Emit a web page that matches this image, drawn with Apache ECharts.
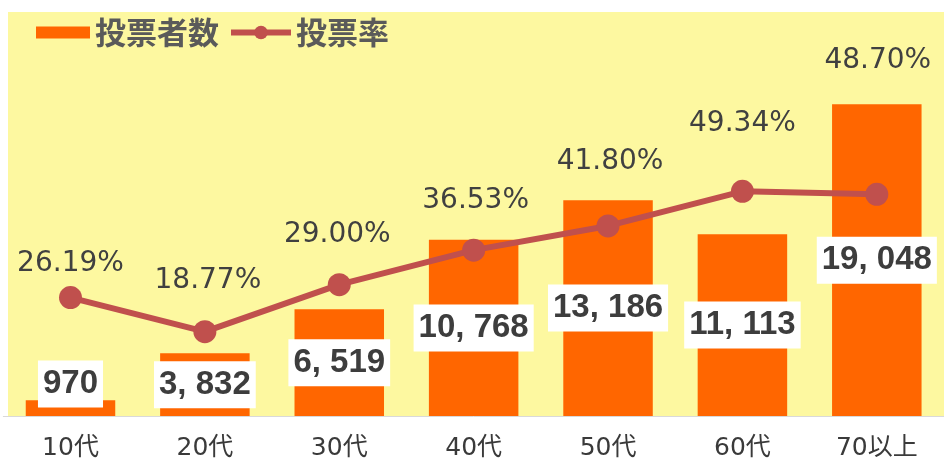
<!DOCTYPE html>
<html>
<head>
<meta charset="utf-8">
<script src="https://cdn.jsdelivr.net/npm/echarts@6/dist/echarts.min.js"></script>
<style>
  html, body { margin: 0; padding: 0; background: #ffffff; }
  #chart { width: 944px; height: 465px; }
</style>
</head>
<body>
<div id="chart"></div>
<script>
// ---- data ----
const categories = ['10代', '20代', '30代', '40代', '50代', '60代', '70以上'];
const voters = [970, 3832, 6519, 10768, 13186, 11113, 19048];
const turnout = [26.19, 18.77, 29.00, 36.53, 41.80, 49.34, 48.70];
const seriesNames = ['投票者数', '投票率'];

// ---- label placement (style, not data) ----
const barLabelShiftY = [-24, 0, 0, 0, 0, 0, 0];
const rateLabelShift = [[0, -34], [3, -51], [-2, -50], [2, -49], [2, -64], [0, -68], [1, -134]];

function fmtVoters(n) {
  return n.toLocaleString('en-US').replace(/,/g, ', ');
}

const chart = echarts.init(document.getElementById('chart'));
const labelColor = '#404040';
const legendText = { fontSize: 31, fontWeight: 'bold', color: '#5a5a5a', fontFamily: 'Noto Sans CJK JP' };

const option = {
  animation: false,
  backgroundColor: '#ffffff',
  graphic: [{
    type: 'rect',
    z: -10,
    silent: true,
    shape: { x: 8, y: 12, width: 936, height: 404 },
    style: { fill: '#FDF8A0' }
  }],
  legend: [{
    data: [seriesNames[0]],
    left: 36, top: 17, padding: 0,
    icon: 'rect',
    itemWidth: 54, itemHeight: 12,
    textStyle: legendText
  }, {
    data: [seriesNames[1]],
    left: 228, top: 17, padding: 0,
    itemWidth: 60, itemHeight: 17,
    lineStyle: { width: 6, color: '#C0504D' },
    textStyle: legendText
  }],
  grid: { left: 3.3, top: 12, width: 945, height: 404, containLabel: false },
  xAxis: {
    type: 'category',
    data: categories,
    boundaryGap: true,
    axisLine: { show: true, lineStyle: { color: '#D9D9D9', width: 1 } },
    axisTick: { show: false },
    axisLabel: {
      margin: 20,
      fontSize: 25,
      color: '#3a3a3a',
      fontFamily: 'DejaVu Sans, Noto Sans CJK JP'
    }
  },
  yAxis: [{
    type: 'value', min: 0, max: 24690, show: false, splitLine: { show: false }
  }, {
    type: 'value', min: 0.4, max: 88.4, show: false, splitLine: { show: false }
  }],
  series: [{
    name: seriesNames[0],
    type: 'bar',
    yAxisIndex: 0,
    barWidth: 89.5,
    itemStyle: { color: '#FF6600' },
    data: voters.map((v, i) => ({
      value: v,
      label: { offset: [0, barLabelShiftY[i]] }
    })),
    label: {
      show: true,
      position: 'inside',
      formatter: p => fmtVoters(p.value),
      backgroundColor: '#ffffff',
      padding: [6, 5],
      fontSize: 33,
      lineHeight: 35,
      fontWeight: 'bold',
      color: '#3d3d3d',
      fontFamily: 'Liberation Sans, Arial, sans-serif'
    },
    z: 2
  }, {
    name: seriesNames[1],
    type: 'line',
    yAxisIndex: 1,
    symbol: 'circle',
    symbolSize: 23,
    lineStyle: { color: '#C0504D', width: 6 },
    itemStyle: { color: '#C0504D' },
    data: turnout.map((v, i) => ({
      value: v,
      label: { offset: rateLabelShift[i] }
    })),
    label: {
      show: true,
      position: 'inside',
      formatter: p => p.value.toFixed(2) + '%',
      fontSize: 28,
      color: labelColor,
      fontFamily: 'DejaVu Sans, sans-serif'
    },
    z: 3
  }]
};

chart.setOption(option);
</script>
</body>
</html>
